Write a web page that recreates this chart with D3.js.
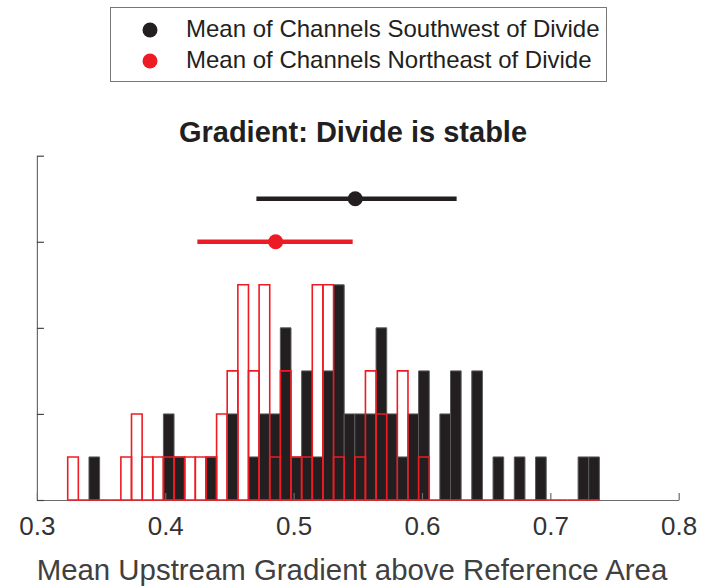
<!DOCTYPE html>
<html lang="en">
<head>
    <meta charset="utf-8">
    <title>Gradient: Divide is stable</title>
    <script src="https://d3js.org/d3.v7.min.js"></script>
    <style>
        body { margin: 0; background: #fff; }
        text { font-family: "Liberation Sans", Arial, Helvetica, sans-serif; }
    </style>
</head>
<body>
    <script type="text/javascript">
        // histogram bins (same edges for both groups)
        var binStart = 0.324;
        var binWidth = 0.008284;
        var southwestCounts = [0, 0, 1, 0, 0, 0, 0, 0, 0, 2,
                               1, 0, 0, 1, 0, 2, 0, 1, 2, 2,
                               4, 1, 3, 1, 3, 5, 2, 2, 2, 4,
                               2, 1, 2, 3, 0, 2, 3, 0, 3, 0,
                               1, 0, 1, 0, 1, 0, 0, 0, 1, 1];
        var northeastCounts = [1, 0, 0, 0, 0, 1, 2, 1, 1, 1,
                               1, 1, 1, 1, 2, 3, 5, 3, 5, 1,
                               3, 1, 1, 5, 5, 1, 0, 1, 3, 2,
                               0, 3, 0, 1, 0, 0, 0, 0, 0, 0,
                               0, 0, 0, 0, 0, 0, 0, 0, 0, 0];

        // mean and spread markers: [low, mean, high, row]
        var southwestMean = [0.471, 0.548, 0.627, 7];
        var northeastMean = [0.425, 0.486, 0.546, 6];

        var xTicks = [0.3, 0.4, 0.5, 0.6, 0.7, 0.8];
        var yTicks = [0, 2, 4, 6, 8];
        var legendLabels = ["Mean of Channels Southwest of Divide",
                            "Mean of Channels Northeast of Divide"];

        var black = "#231f20";
        var red = "#ed1c24";

        var w = 705;
        var h = 587;
        var margin = {top: 155.7, right: 26.3, bottom: 87, left: 36.9};

        var svg = d3.select("body")
                    .append("svg")
                    .attr("width", w)
                    .attr("height", h);

        var x = d3.scaleLinear()
                  .domain([0.3, 0.8])
                  .range([margin.left, w - margin.right]);
        var y = d3.scaleLinear()
                  .domain([0, 8])
                  .range([h - margin.bottom, margin.top]);

        function barPath(d, i) {
            var x0 = x(binStart + i * binWidth);
            var x1 = x(binStart + (i + 1) * binWidth);
            return "M" + x0 + "," + y(0) + "V" + y(d) + "H" + x1 + "V" + y(0) + "Z";
        }

        //Black bars (southwest)
        svg.append("g")
           .selectAll("path")
           .data(southwestCounts)
           .enter()
           .append("path")
           .attr("d", barPath)
           .attr("display", function(d) { return d > 0 ? null : "none"; })
           .attr("fill", black)
           .attr("stroke", "#5a5a5a")
           .attr("stroke-width", 1);

        //Axes
        var axisColor = "#6b6b6b";
        var xAxis = svg.append("g")
           .attr("transform", "translate(0," + y(0) + ")")
           .call(d3.axisBottom(x).tickValues(xTicks).tickSizeInner(-7).tickSizeOuter(0).tickPadding(16.5)
                 .tickFormat(d3.format(".1f")));
        xAxis.select(".domain").attr("stroke", axisColor).attr("stroke-width", 1.2);
        xAxis.selectAll(".tick line").attr("stroke", axisColor).attr("stroke-width", 1.2);
        xAxis.selectAll(".tick text")
             .attr("font-size", 26)
             .attr("fill", "#333")
             .style("font-family", "'Liberation Sans', Arial, sans-serif");

        var yAxis = svg.append("g")
           .attr("transform", "translate(" + x(0.3) + ",0)")
           .call(d3.axisLeft(y).tickValues(yTicks).tickSizeInner(-7).tickSizeOuter(0).tickFormat(""));
        yAxis.select(".domain").attr("stroke", axisColor).attr("stroke-width", 1.2);
        yAxis.selectAll(".tick line").attr("stroke", "#444").attr("stroke-width", 1.2);

        //Red outlined bars (northeast), drawn on top
        svg.append("g")
           .selectAll("path")
           .data(northeastCounts)
           .enter()
           .append("path")
           .attr("d", barPath)
           .attr("fill", "none")
           .attr("stroke", red)
           .attr("stroke-width", 1.6);

        //Mean markers with spread
        var means = [[southwestMean, black], [northeastMean, red]];
        means.forEach(function(m) {
            var d = m[0];
            svg.append("line")
               .attr("x1", x(d[0]))
               .attr("x2", x(d[2]))
               .attr("y1", y(d[3]))
               .attr("y2", y(d[3]))
               .attr("stroke", m[1])
               .attr("stroke-width", 4.5);
            svg.append("circle")
               .attr("cx", x(d[1]))
               .attr("cy", y(d[3]))
               .attr("r", 7.5)
               .attr("fill", m[1]);
        });

        //Title
        svg.append("text")
           .attr("x", 353)
           .attr("y", 141.5)
           .attr("text-anchor", "middle")
           .attr("font-size", 29)
           .attr("font-weight", "bold")
           .attr("fill", black)
           .text("Gradient: Divide is stable");

        //X label
        svg.append("text")
           .attr("x", 352)
           .attr("y", 580)
           .attr("text-anchor", "middle")
           .attr("font-size", 29.4)
           .attr("fill", "#404040")
           .text("Mean Upstream Gradient above Reference Area");

        //Legend
        var legend = svg.append("g");
        legend.append("rect")
              .attr("x", 110.5)
              .attr("y", 7.5)
              .attr("width", 496)
              .attr("height", 74)
              .attr("fill", "#fff")
              .attr("stroke", "#777")
              .attr("stroke-width", 1);
        legend.selectAll("g.item")
              .data(legendLabels)
              .enter()
              .append("g")
              .attr("class", "item")
              .attr("transform", function(d, i) { return "translate(0," + (30 + i * 31) + ")"; })
              .each(function(d, i) {
                  var g = d3.select(this);
                  g.append("circle")
                   .attr("cx", 150)
                   .attr("cy", 0)
                   .attr("r", 7.5)
                   .attr("fill", i === 0 ? black : red);
                  g.append("text")
                   .attr("x", 186)
                   .attr("y", 7)
                   .attr("font-size", 24)
                   .attr("fill", black)
                   .text(d);
              });
    </script>
</body>
</html>
